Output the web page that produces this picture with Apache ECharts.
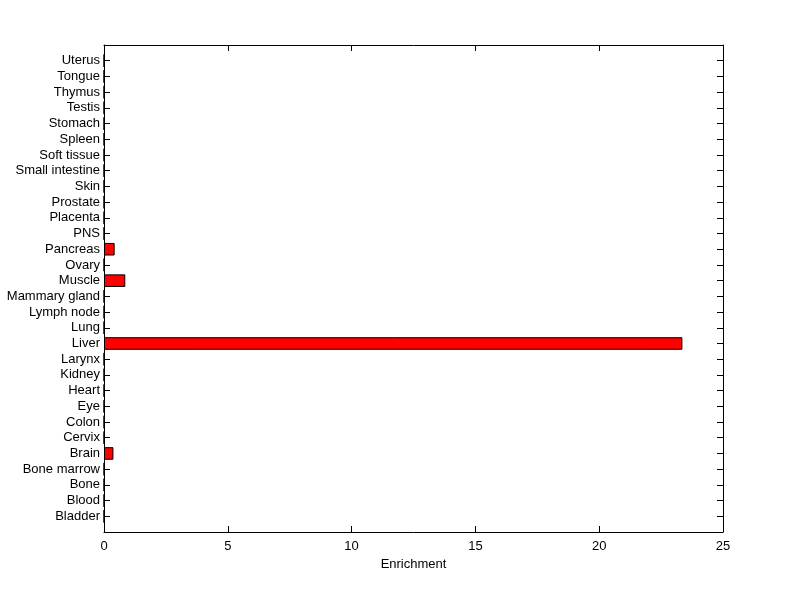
<!DOCTYPE html>
<html>
<head>
<meta charset="utf-8">
<script src="https://cdn.jsdelivr.net/npm/echarts@6/dist/echarts.min.js"></script>
<style>
html,body{margin:0;padding:0;background:#fff;}
#chart{width:800px;height:599px;}
</style>
</head>
<body>
<div id="chart"></div>
<script>
// Categories listed bottom to top
var tissues = ['Bladder','Blood','Bone','Bone marrow','Brain','Cervix','Colon','Eye','Heart','Kidney','Larynx','Liver','Lung','Lymph node','Mammary gland','Muscle','Ovary','Pancreas','PNS','Placenta','Prostate','Skin','Small intestine','Soft tissue','Spleen','Stomach','Testis','Thymus','Tongue','Uterus'];
var enrichment = [0,0,0,0,0.38,0,0,0,0,0,0,23.36,0,0,0,0.86,0,0.43,0,0,0,0,0,0,0,0,0,0,0,0];
var xTicks = [0,5,10,15,20,25];
var xLabel = 'Enrichment';

var cats = [''].concat(tissues).concat(['']);
var vals = [null].concat(enrichment).concat([null]);

var FONT = 'Liberation Sans, Arial, sans-serif';
var chart = echarts.init(document.getElementById('chart'), null, {renderer:'canvas'});
var lineStyle = {color:'#000', width:1};
chart.setOption({
  animation:false,
  backgroundColor:'#fff',
  grid:{left:104, right:77, top:45, bottom:67, containLabel:false},
  xAxis:[{
    type:'value', position:'bottom', min:xTicks[0], max:xTicks[xTicks.length-1], interval:5,
    axisLine:{show:true, onZero:false, lineStyle:lineStyle},
    axisTick:{show:true, inside:true, length:6, lineStyle:lineStyle},
    axisLabel:{color:'#000', fontSize:13, fontFamily:FONT, margin:8},
    splitLine:{show:false},
    name:xLabel, nameLocation:'middle', nameGap:23,
    nameTextStyle:{color:'#000', fontSize:13, fontFamily:FONT}
  },{
    type:'value', position:'top', min:xTicks[0], max:xTicks[xTicks.length-1], interval:5,
    axisLine:{show:true, onZero:false, lineStyle:lineStyle},
    axisTick:{show:true, inside:true, length:6, lineStyle:lineStyle},
    axisLabel:{show:false}, splitLine:{show:false}
  }],
  yAxis:[{
    type:'category', position:'left', data:cats, boundaryGap:false,
    axisLine:{show:true, onZero:false, lineStyle:lineStyle},
    axisTick:{show:true, inside:true, length:6, lineStyle:lineStyle, interval:0},
    axisLabel:{color:'#000', fontSize:13, fontFamily:FONT, margin:4, interval:0, padding:[4,0,0,0]},
    splitLine:{show:false}
  },{
    type:'category', position:'right', data:cats, boundaryGap:false,
    axisLine:{show:true, onZero:false, lineStyle:lineStyle},
    axisTick:{show:true, inside:true, length:6, lineStyle:lineStyle, interval:0},
    axisLabel:{show:false}, splitLine:{show:false}
  }],
  series:[{
    type:'bar', xAxisIndex:0, yAxisIndex:0, data:vals, barWidth:'80%',
    itemStyle:{color:'#ff0000', borderColor:'#000', borderWidth:1}
  }]
});
</script>
</body>
</html>
